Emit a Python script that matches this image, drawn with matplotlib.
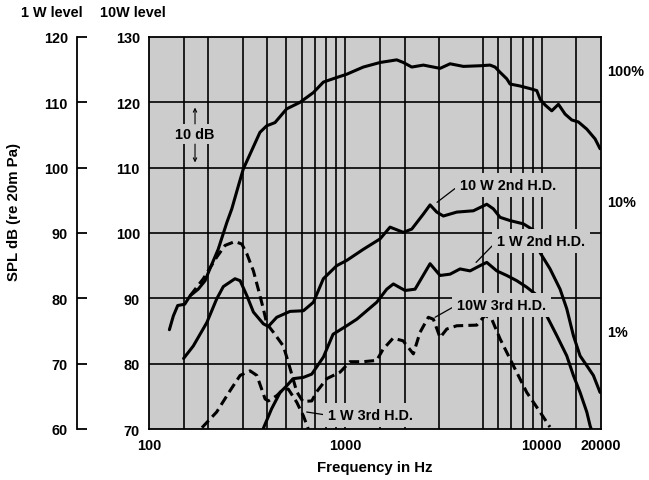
import matplotlib
matplotlib.use("Agg")
import matplotlib.pyplot as plt

plt.rcParams['font.family'] = ['Liberation Sans', 'DejaVu Sans']
plt.rcParams['font.weight'] = 'bold'
plt.rcParams['font.size'] = 10.4

# all levels read on the 10 W scale (left inner axis)
freq_main = [127, 133, 140, 152, 162, 178, 193, 204, 225, 249, 264, 285, 302, 333, 367, 397, 438, 502,
             587, 687, 772, 903, 1015, 1233, 1501, 1824, 1971, 2176, 2493, 3032, 3410, 3984, 4845,
             5448, 5777, 6126, 6627, 6888, 7745, 8710, 9420, 9790, 10380, 11230, 12140, 13130,
             14200, 15340, 16930, 18660, 19780]
spl_main = [85.2, 87.3, 88.9, 89.1, 90.4, 91.4, 92.7, 94.5, 97.5, 101.6, 103.7, 107.2, 109.8, 112.6,
            115.4, 116.4, 116.9, 119.0, 120.0, 121.5, 123.1, 123.8, 124.3, 125.4, 126.1, 126.5,
            126.1, 125.4, 125.7, 125.2, 125.9, 125.5, 125.6, 125.7, 125.4, 124.6, 123.6, 122.8,
            122.5, 122.1, 121.8, 120.5, 119.6, 118.7, 119.7, 118.2, 117.3, 117.0, 115.9, 114.4, 112.9]

freq_2nd_10w = [150, 168, 197, 221, 239, 274, 291, 315, 340, 382, 405, 447, 522, 611, 687, 772, 903,
                1015, 1233, 1501, 1687, 1971, 2176, 2493, 2697, 2916, 3151, 3688, 4480, 5242, 5663,
                6126, 6888, 8050, 9235, 9790, 11010, 12380, 13390, 14470, 15650, 16930, 18290, 19780]
spl_2nd_10w = [80.8, 82.7, 86.3, 89.9, 91.8, 93.0, 92.7, 90.4, 87.9, 86.1, 85.7, 87.1, 88.0, 88.1,
               89.4, 93.0, 95.0, 95.8, 97.5, 99.1, 100.9, 100.1, 100.6, 102.9, 104.3, 103.2, 102.6,
               103.2, 103.4, 104.4, 103.7, 102.4, 101.9, 101.4, 100.3, 97.0, 94.5, 91.4, 88.4, 84.3,
               81.2, 79.7, 78.2, 75.6]

freq_2nd_1w = [382, 421, 465, 502, 541, 611, 674, 772, 865, 1015, 1142, 1443, 1623, 1754, 2012, 2262,
               2697, 3032, 3410, 3833, 4310, 4845, 5242, 5895, 6627, 7450, 8378, 9235, 10590, 11910,
               13390, 14470, 15650, 16930, 17600, 18300]
spl_2nd_1w = [70.1, 73.1, 75.6, 76.6, 77.7, 77.9, 78.4, 81.0, 84.5, 85.8, 86.8, 89.4, 91.4, 92.2,
              91.2, 91.4, 95.3, 93.5, 93.7, 94.5, 94.2, 95.0, 95.5, 94.2, 93.5, 92.7, 91.7, 90.7,
              87.3, 84.3, 81.2, 78.2, 75.6, 72.6, 70.5, 69.0]

freq_3rd_10w = [162, 189, 221, 244, 274, 297, 315, 340, 360, 382, 398, 430, 483, 512, 541, 565, 608,
                674, 714, 803, 939, 1055, 1229, 1443, 1554, 1748, 1965, 2217, 2398, 2643, 2803, 3032,
                3280, 3688, 4662, 5138, 5559, 6126, 7160, 8378, 9790, 10990]
spl_3rd_10w = [90.4, 93.0, 96.3, 98.1, 98.7, 98.3, 96.8, 94.2, 91.4, 88.4, 86.1, 84.8, 82.7, 80.2,
               77.7, 75.7, 74.2, 74.3, 75.7, 77.7, 78.7, 80.3, 80.3, 80.5, 82.2, 83.9, 83.5, 81.5,
               84.8, 87.1, 86.8, 84.0, 85.3, 85.8, 85.9, 87.4, 86.8, 83.8, 79.7, 75.6, 72.6, 70.3]

freq_3rd_1w = [186, 221, 259, 291, 327, 354, 390, 405, 447, 483, 512, 565, 611, 647]
spl_3rd_1w = [70.2, 72.6, 75.9, 78.2, 78.9, 78.2, 74.6, 74.3, 75.1, 76.1, 76.1, 74.1, 72.0, 70.0]

grid_freqs = [150, 200, 300, 400, 500, 600, 700, 800, 900, 1000, 1500, 2000, 3000, 5000, 6000,
              7000, 8000, 9000, 10000, 15000]
grid_levels = [80, 90, 100, 110, 120]
tick_freqs = [100, 1000, 10000, 20000]
levels_10w = [70, 80, 90, 100, 110, 120, 130]
levels_1w = [60, 70, 80, 90, 100, 110, 120]
pct_labels = ['100%', '10%', '1%']
pct_levels = [124.8, 104.8, 84.8]

gray = '#cccccc'

fig = plt.figure(figsize=(6.49, 4.81), dpi=100)
ax = fig.add_axes([149 / 649, 1 - 430 / 481, 452 / 649, 392 / 481])
ax.set_facecolor(gray)
ax.set_xscale('log')
ax.set_xlim(100, 20000)
ax.set_ylim(70, 130)

for f in grid_freqs:
    ax.axvline(f, color='black', lw=1.2, zorder=1)
for lv in grid_levels:
    ax.axhline(lv, color='black', lw=1.2, zorder=1)

for sp in ax.spines.values():
    sp.set_linewidth(1.3)

ax.set_xticks(tick_freqs)
ax.set_xticklabels([str(f) for f in tick_freqs])
ax.xaxis.set_minor_locator(matplotlib.ticker.NullLocator())
ax.set_yticks(levels_10w)
ax.set_yticklabels([str(v) for v in levels_10w])
ax.tick_params(axis='both', length=0, pad=6.5)

line_kw = dict(color='black', lw=2.2, zorder=3, solid_capstyle='round')
ax.plot(freq_main, spl_main, **line_kw)
ax.plot(freq_2nd_10w, spl_2nd_10w, **line_kw)
ax.plot(freq_2nd_1w, spl_2nd_1w, **line_kw)
ax.plot(freq_3rd_10w, spl_3rd_10w, dashes=(3.2, 1.7), **line_kw)
ax.plot(freq_3rd_1w, spl_3rd_1w, dashes=(3.2, 1.7), **line_kw)

box = dict(boxstyle='square,pad=0.35', fc=gray, ec='none')
leader = dict(arrowstyle='-', lw=0.9, color='black', shrinkA=0, shrinkB=0, relpos=(0, 0.5))
ax.annotate('10 W 2nd H.D.', xy=(2927, 104.7), xytext=(3833, 107.4), ha='left', va='center',
            bbox=box, arrowprops=leader, zorder=5)
ax.annotate('1 W 2nd H.D.', xy=(4624, 95.5), xytext=(5915, 98.8), ha='left', va='center',
            bbox=box, arrowprops=leader, zorder=5)
ax.annotate('10W 3rd H.D.', xy=(2859, 87.1), xytext=(3701, 89.0), ha='left', va='center',
            bbox=box, arrowprops=leader, zorder=5)
ax.annotate('1 W 3rd H.D.', xy=(635, 72.6), xytext=(815, 72.1), ha='left', va='center',
            bbox=box, arrowprops=leader, zorder=5)

# 10 dB marker
ax.text(170, 115.15, '10 dB', ha='center', va='center', bbox=dict(boxstyle='square,pad=0.2', fc=gray, ec='none'),
        zorder=5)
arr = dict(arrowstyle='->', lw=0.8, color='black', shrinkA=0, shrinkB=0, mutation_scale=6)
ax.annotate('', xy=(171.5, 119.2), xytext=(171.5, 116.7), arrowprops=arr, zorder=5)
ax.annotate('', xy=(171.5, 110.8), xytext=(171.5, 113.6), arrowprops=arr, zorder=5)

for lab, lv in zip(pct_labels, pct_levels):
    ax.text(1.013, lv, lab, transform=ax.get_yaxis_transform(), ha='left', va='center', clip_on=False)

# 1 W level scale
ax2 = fig.add_axes([77 / 649, 1 - 430 / 481, 0.001, 392 / 481])
ax2.set_facecolor('none')
ax2.set_ylim(60, 120)
ax2.set_yticks(levels_1w)
ax2.set_yticklabels([str(v) for v in levels_1w])
ax2.set_xticks([])
for name in ['top', 'right', 'bottom']:
    ax2.spines[name].set_visible(False)
ax2.spines['left'].set_linewidth(1.3)
ax2.tick_params(axis='y', direction='in', length=7.5, width=1.3, pad=6.5)

fig.text(52 / 649, 1 - 13 / 481, '1 W level', ha='center', va='center')
fig.text(133 / 649, 1 - 13 / 481, '10W level', ha='center', va='center')
fig.text(14 / 649, 1 - 212 / 481, 'SPL dB (re 20m Pa)', rotation=90, ha='center', va='center', fontsize=10.8)
fig.text(375 / 649, 1 - 468 / 481, 'Frequency in Hz', ha='center', va='center', fontsize=10.8)

fig.savefig('out.png', dpi=100)
